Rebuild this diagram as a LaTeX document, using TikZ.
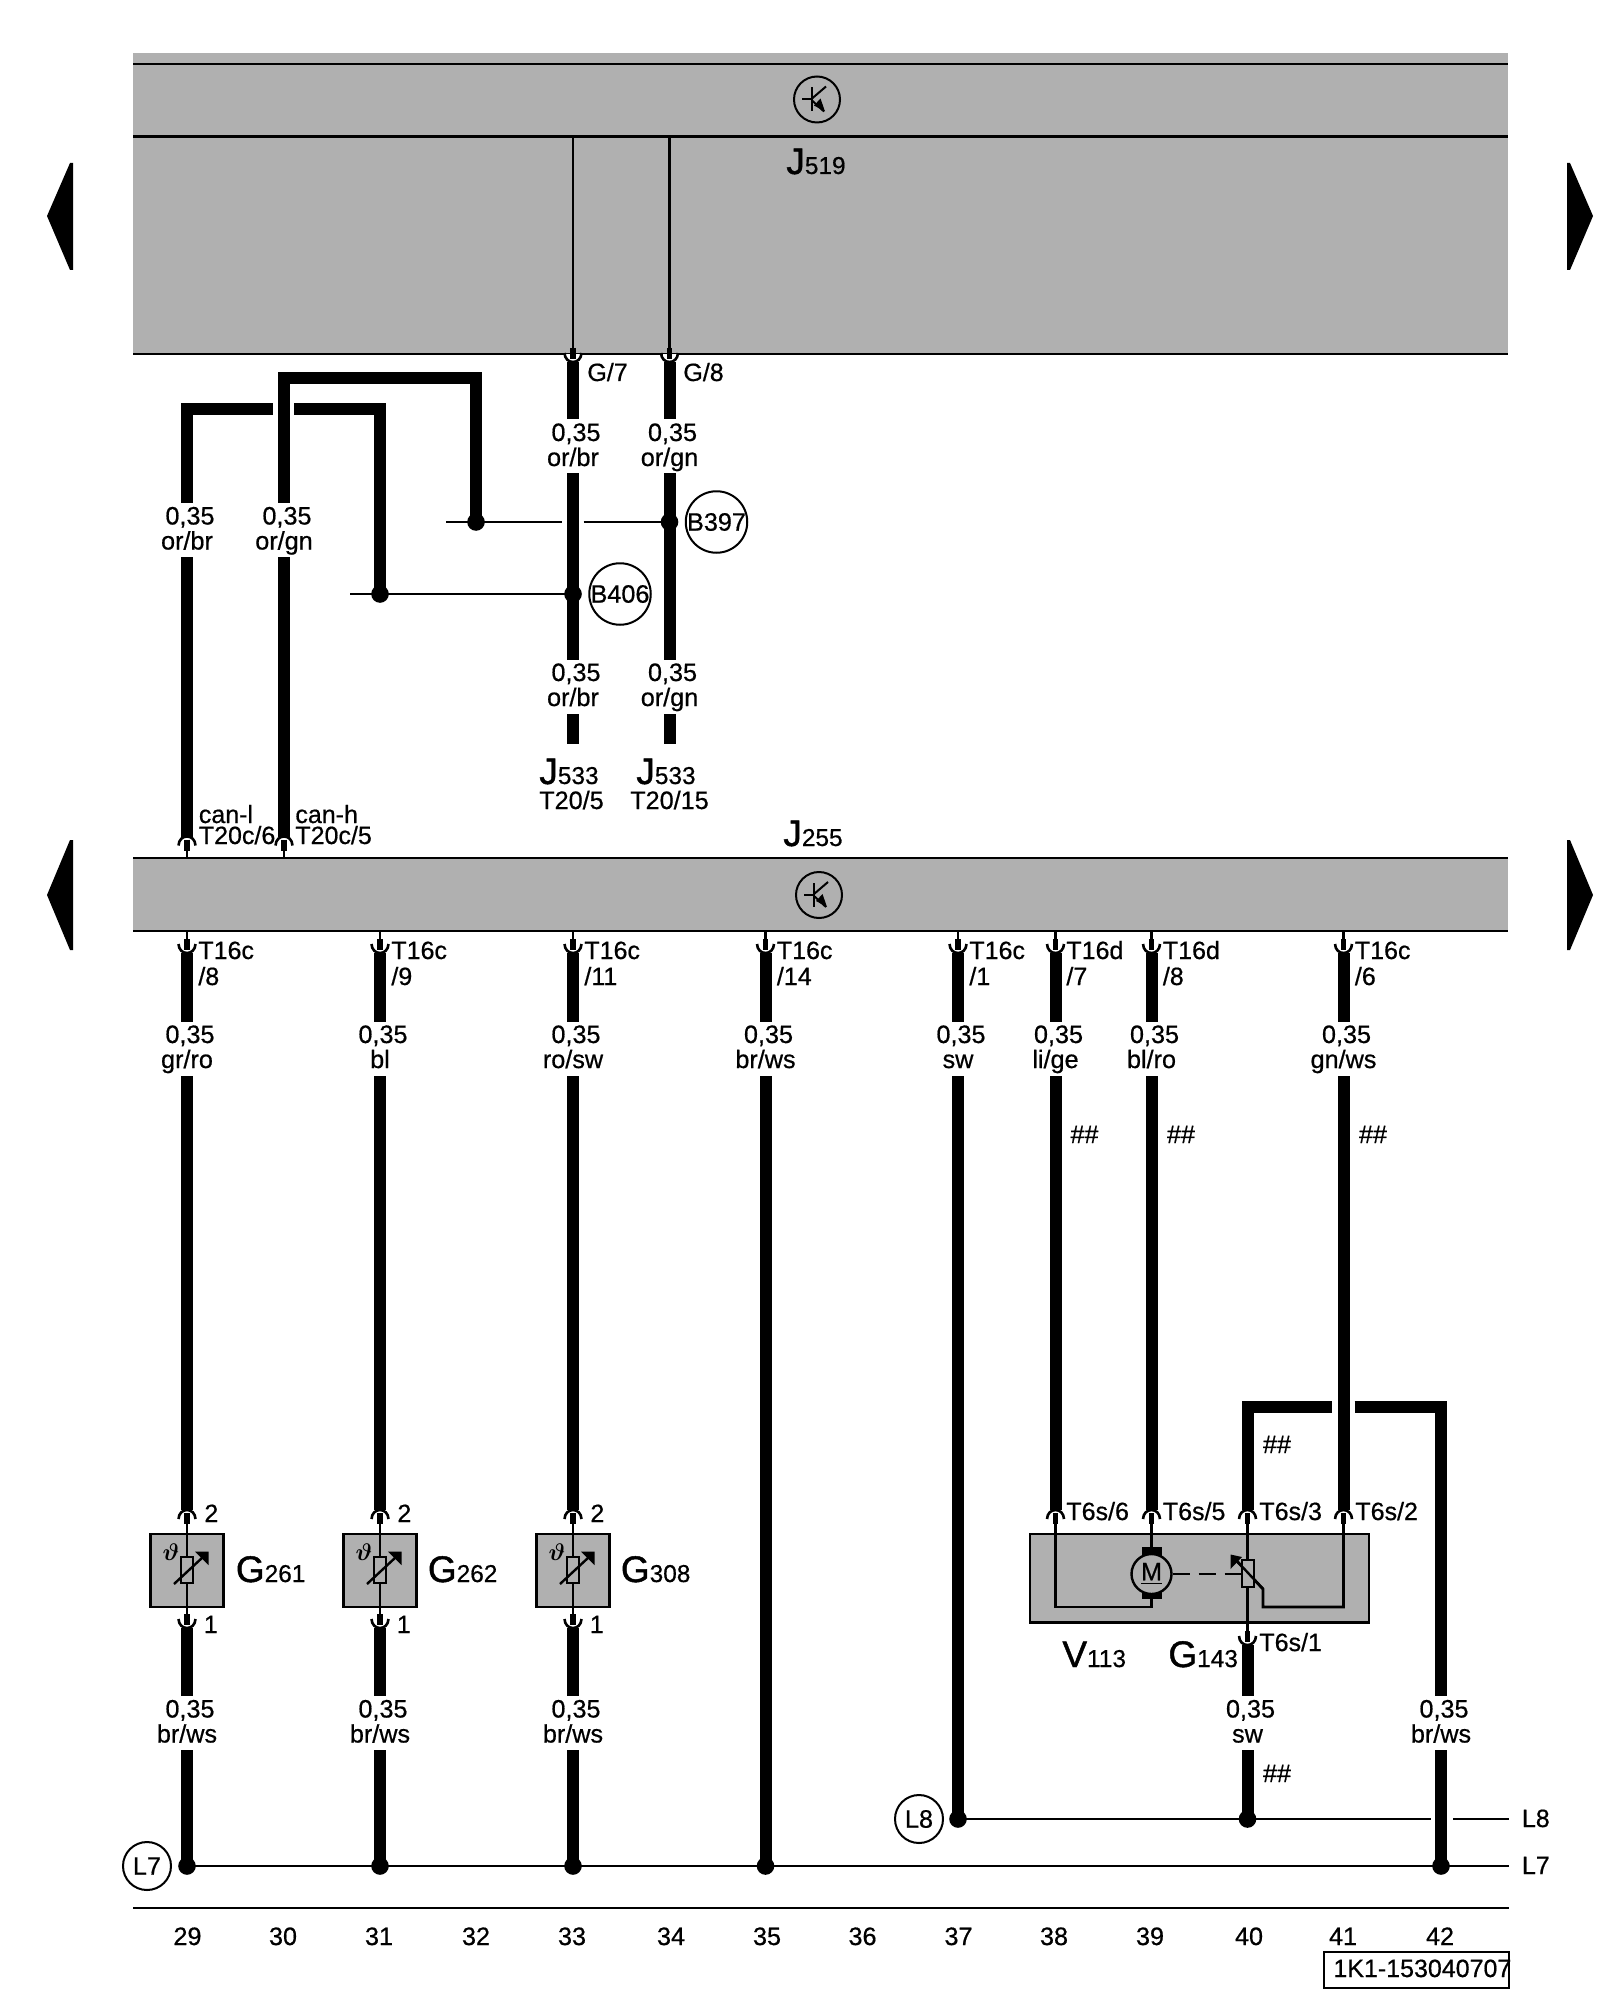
\documentclass[tikz,border=0pt]{standalone}
\usepackage{fontspec}
\setmainfont{Liberation Sans}
\newfontfamily\semifont[FakeBold=0.6]{Liberation Sans}
\newfontfamily\heavyfont[FakeBold=1.2]{Liberation Sans}
\usetikzlibrary{calc}
\definecolor{panelgray}{gray}{0.69}
\newcommand\biglab[2]{{\heavyfont\fontsize{18.5}{20}\selectfont #1}{\semifont\fontsize{12.2}{14}\selectfont #2}}
\tikzset{
  x=0.5pt,y=-0.5pt,
  wirethick/.style={line width=6pt,line cap=butt,line join=miter},
  wirethin/.style={line width=1.4pt,line cap=butt},
  barline/.style={line width=1.3pt},
  stub/.style={line width=2.6pt,line cap=butt},
  gapbox/.style={fill=white,draw=none,minimum width=14pt,minimum height=27pt,inner sep=0pt},
  lbl/.style={font=\semifont\fontsize{12.6}{14}\selectfont,inner sep=0pt,anchor=base},
  lblw/.style={font=\semifont\fontsize{12.5}{14}\selectfont,inner sep=0pt,anchor=base west},
  big/.style={inner sep=0pt,anchor=base west},
  ring/.style={circle,draw,line width=1pt,inner sep=0pt,minimum size=#1},
  dot/.style={circle,fill=black,inner sep=0pt,minimum size=8.8pt},
  panel/.style={fill=panelgray,draw=black,line width=1.2pt},
  tri/.style={fill=black,draw=none}
}
% contact seen from a wire coming from above (wire ends on the arc top)
\newcommand\contup[2]{%
  \fill[white] (#1-7,#2+8) .. controls (#1-7,#2-2) and (#1+7,#2-2) .. (#1+7,#2+8) -- cycle;
  \draw[line width=1.3pt] (#1-8.5,#2+9) .. controls (#1-8,#2-3) and (#1+8,#2-3) .. (#1+8.5,#2+9);
  \draw[stub] (#1,#2+3) -- (#1,#2+14);}
% contact seen from a wire going down (wire starts at the arc bottom)
\newcommand\contdn[2]{%
  \fill[white] (#1-7,#2-8) .. controls (#1-7,#2+2) and (#1+7,#2+2) .. (#1+7,#2-8) -- cycle;
  \draw[line width=1.3pt] (#1-8.5,#2-9) .. controls (#1-8,#2+3) and (#1+8,#2+3) .. (#1+8.5,#2-9);
  \draw[stub] (#1,#2-14) -- (#1,#2-3);}
% wire label interrupting a thick wire: name, x, centre y, upper text, lower text
\newcommand\wl[5]{%
  \node[gapbox] (#1) at (#2,#3) {};
  \node[lbl] (#1a) at (#2+3,#3-5.5) {#4};
  \node[lbl] (#1b) at (#2,#3+19.5) {#5};}
\newcommand\sensor[4]{% name, x centre, label, label left
  \node[panel,minimum width=36.5pt,minimum height=36.5pt,inner sep=0pt] (#1) at (#2,1570.5) {};
  \coordinate (#1t) at (#2,1522);
  \coordinate (#1b) at (#2,1615);
  \draw[wirethin] (#1t) -- (#1b);
  \draw[line width=1pt,fill=panelgray] (#2-6,1557) rectangle (#2+6,1583);
  \draw[line width=1.2pt] (#2-13,1584) -- (#2+16,1557);
  \fill (#2+21.5,1551.5) -- (#2+21.5,1565) -- (#2+8,1551.5) -- cycle;
  \node[inner sep=0pt,font=\fontsize{13}{14}\selectfont] (#1s) at (#2-16,1552) {$\boldsymbol{\vartheta}$};
  \node[big] (#1l) at (#4,1582) {\biglab{G}{#3}};
  \contup{#2}{1510}
  \contdn{#2}{1628}
  \node[lblw] (#1n2) at (#2+17,1522) {2};
  \node[lblw] (#1n1) at (#2+16.5,1633) {1};}
\newcommand\transym[2]{% name, centre given as x,y
  \node[ring=23pt] (#1) at (#2) {};
  \draw[line width=1pt] ($(#1)+(-5,-12)$) -- ($(#1)+(-5,12)$);
  \draw[line width=1pt] ($(#1)+(-15,0)$) -- ($(#1)+(-5,0)$);
  \draw[line width=1pt] ($(#1)+(-5,-1)$) -- ($(#1)+(9,-13)$);
  \draw[line width=1pt] ($(#1)+(-5,1)$) -- ($(#1)+(7,12)$);
  \fill ($(#1)+(8,12)$) -- ($(#1)+(3.5,-1)$) -- ($(#1)+(-3,6)$) -- cycle;}
\usepackage{amsmath}
\begin{document}
\begin{tikzpicture}
\useasboundingbox (0,0) rectangle (1600,2000);
% side markers
\fill[tri] (47,216) -- (70,163) -- (73,163) -- (73,270) -- (70,270) -- cycle;
\fill[tri] (47,895) -- (70,840) -- (73,840) -- (73,950) -- (70,950) -- cycle;
\fill[tri] (1593,216) -- (1570,163) -- (1567,163) -- (1567,270) -- (1570,270) -- cycle;
\fill[tri] (1593,895) -- (1570,840) -- (1567,840) -- (1567,950) -- (1570,950) -- cycle;
% J519 panel
\fill[panelgray] (133,53) rectangle (1508,354);
\draw[barline] (133,64) -- (1508,64);
\draw[barline] (133,136.5) -- (1508,136.5);
\draw[barline] (133,354) -- (1508,354);
\transym{sa}{817,99.5}
\node[big] (j519) at (786,174) {\biglab{J}{519}};
% J255 panel
\fill[panelgray] (133,858) rectangle (1508,931);
\draw[barline] (133,858) -- (1508,858);
\draw[barline] (133,931) -- (1508,931);
\transym{sb}{819,895}
\node[big] (j255) at (783,846) {\biglab{J}{255}};
% named points
\coordinate (a1) at (573,136.5);  \coordinate (a2) at (573,350);
\coordinate (b1) at (669.5,136.5);  \coordinate (b2) at (669.5,350);
\coordinate (c1) at (573,362);    \coordinate (c2) at (573,744);
\coordinate (d1) at (669.5,362);    \coordinate (d2) at (669.5,744);
\coordinate (dA) at (573,594);    \coordinate (dB) at (669.5,522);
\coordinate (dC) at (476,522);    \coordinate (dD) at (380,594);
\coordinate (e1) at (187,836.5);  \coordinate (e2) at (187,409);
\coordinate (e3) at (273,409);    \coordinate (e4) at (294,409);
\coordinate (e5) at (380,409);
\coordinate (f1) at (284,836.5);  \coordinate (f2) at (284,378);
\coordinate (f3) at (476,378);
\coordinate (h1) at (446,522);    \coordinate (h2) at (561.5,522);
\coordinate (h3) at (583.5,522);  \coordinate (h4) at (350,594);
% upper wires
\draw[wirethin] (a1) -- (a2);
\draw[wirethin] (b1) -- (b2);
\draw[wirethin] (h1) -- (h2);
\draw[wirethin] (h3) -- (dB);
\draw[wirethin] (h4) -- (dA);
\draw[wirethick] (c1) -- (c2);
\draw[wirethick] (d1) -- (d2);
\draw[wirethick] (e1) -- (e2) -- (e3);
\draw[wirethick] (e4) -- (e5) -- (dD);
\draw[wirethick] (f1) -- (f2) -- (f3) -- (dC);
\contdn{573}{362}
\contdn{669.5}{362}
\contup{187}{836.5}
\contup{284}{836.5}
\draw[wirethin] (187,849) -- (187,858);
\draw[wirethin] (284,849) -- (284,858);
\node[dot] (ndA) at (dA) {};
\node[dot] (ndB) at (dB) {};
\node[dot] (ndC) at (dC) {};
\node[dot] (ndD) at (dD) {};
\wl{u1}{573}{446.5}{0,35}{or/br}
\wl{u2}{669.5}{446.5}{0,35}{or/gn}
\wl{u3}{573}{686.5}{0,35}{or/br}
\wl{u4}{669.5}{686.5}{0,35}{or/gn}
\wl{u5}{187}{530}{0,35}{or/br}
\wl{u6}{284}{530}{0,35}{or/gn}
\node[lblw] (g7) at (587,381) {G/7};
\node[lblw] (g8) at (683,381) {G/8};
\node[ring=30.5pt,fill=white,font=\semifont\fontsize{12.6}{14}\selectfont] (b397) at (716.5,522) {B397};
\node[ring=30.5pt,fill=white,font=\semifont\fontsize{12.6}{14}\selectfont] (b406) at (620,594) {B406};
\node[big] (j533a) at (539,784) {\biglab{J}{533}};
\node[big] (j533b) at (636,784) {\biglab{J}{533}};
\node[lbl] (t205) at (571.5,809) {T20/5};
\node[lbl] (t2015) at (669.5,809) {T20/15};
\node[lblw] (canl) at (198.5,823) {can-l};
\node[lblw] (t6) at (198.5,844) {T20c/6};
\node[lblw] (canh) at (295,823) {can-h};
\node[lblw] (t5) at (295,844) {T20c/5};
% lower bus points
\coordinate (L7a) at (187,1866);  \coordinate (L7b) at (1509,1866);
\coordinate (L8a) at (958,1819);  \coordinate (L8b) at (1431,1819);
\coordinate (L8c) at (1453,1819); \coordinate (L8d) at (1509,1819);
\draw[wirethin] (L7a) -- (L7b);
\draw[wirethin] (L8a) -- (L8b);
\draw[wirethin] (L8c) -- (L8d);
% sensors, columns 29, 31, 33
\draw[wirethick] (187,953) -- (187,1510);
\draw[wirethick] (380,953) -- (380,1510);
\draw[wirethick] (573,953) -- (573,1510);
\draw[wirethick] (187,1628) -- (L7a);
\draw[wirethick] (380,1628) -- (380,1866);
\draw[wirethick] (573,1628) -- (573,1866);
\sensor{s1}{187}{261}{235.5}
\sensor{s2}{380}{262}{427.5}
\sensor{s3}{573}{308}{620.5}
% columns 35 to 41
\draw[wirethick] (765.5,953) -- (765.5,1866);
\draw[wirethick] (958,953) -- (L8a);
\draw[wirethick] (1055.5,953) -- (1055.5,1510);
\draw[wirethick] (1151.5,953) -- (1151.5,1510);
\draw[wirethick] (1343.5,953) -- (1343.5,1510);
% V113 / G143
\draw[panel] (1030,1534) rectangle (1369,1622.5);
\coordinate (v1) at (1055.5,1522); \coordinate (v2) at (1055.5,1607); \coordinate (v3) at (1151.5,1607);
\coordinate (v4) at (1151.5,1522); \coordinate (v5) at (1247.5,1522); \coordinate (v6) at (1247.5,1631);
\coordinate (v7) at (1343.5,1522); \coordinate (v8) at (1343.5,1607); \coordinate (v9) at (1263,1607); \coordinate (v10) at (1263,1589);
\draw[wirethin] (v1) -- (v2) -- (v3) -- (1151.5,1599);
\draw[wirethin] (v4) -- (1151.5,1547);
\draw[wirethin] (v5) -- (v6);
\draw[wirethin] (v7) -- (v8) -- (v9) -- (v10) -- (1234,1558);
\fill[black] (1141.5,1547) rectangle (1161.5,1556);
\fill[black] (1141.5,1592) rectangle (1161.5,1599);
\node[circle,draw,line width=1.2pt,fill=panelgray,minimum size=20pt,inner sep=0pt,font=\semifont\fontsize{12.6}{14}\selectfont] (mot) at (1151.5,1574) {\underline{M}};
\draw[line width=1.1pt,dash pattern=on 8.5pt off 4.5pt] (mot) -- (1243,1574);
\draw[line width=1pt,fill=panelgray] (1242,1560) rectangle (1254,1587);
\draw[line width=1.2pt] (1263,1589) -- (1236,1560);
\fill (1230.5,1554.5) -- (1242,1557) -- (1230.5,1569) -- cycle;
\draw[wirethick] (1247.5,1510) -- (1247.5,1407) -- (1331.5,1407);
\draw[wirethick] (1354.5,1407) -- (1441,1407) -- (1441,1866);
\draw[wirethick] (1247.5,1645) -- (1247.5,1819);
\contup{1055.5}{1510}
\contup{1151.5}{1510}
\contup{1247.5}{1510}
\contup{1343.5}{1510}
\contdn{1247.5}{1645}
\foreach \xx in {187,380,573,765.5,958,1055.5,1151.5,1343.5}{
  \draw[wirethin] (\xx,931) -- (\xx,941);
  \contdn{\xx}{953}
}
\node[dot] (n1) at (187,1866) {};
\node[dot] (n2) at (380,1866) {};
\node[dot] (n3) at (573,1866) {};
\node[dot] (n4) at (765.5,1866) {};
\node[dot] (n5) at (1441,1866) {};
\node[dot] (n6) at (958,1819) {};
\node[dot] (n7) at (1247.5,1819) {};
\wl{m1}{187}{1048.5}{0,35}{gr/ro}
\wl{m2}{380}{1048.5}{0,35}{bl}
\wl{m3}{573}{1048.5}{0,35}{ro/sw}
\wl{m4}{765.5}{1048.5}{0,35}{br/ws}
\wl{m5}{958}{1048.5}{0,35}{sw}
\wl{m6}{1055.5}{1048.5}{0,35}{li/ge}
\wl{m7}{1151.5}{1048.5}{0,35}{bl/ro}
\wl{m8}{1343.5}{1048.5}{0,35}{gn/ws}
\wl{q1}{187}{1723}{0,35}{br/ws}
\wl{q2}{380}{1723}{0,35}{br/ws}
\wl{q3}{573}{1723}{0,35}{br/ws}
\wl{q4}{1247.5}{1723}{0,35}{sw}
\wl{q5}{1441}{1723}{0,35}{br/ws}
% connector texts
\node[lblw] (c1a) at (198,959) {T16c};  \node[lblw] (c1b) at (198,985) {/8};
\node[lblw] (c2a) at (391,959) {T16c};  \node[lblw] (c2b) at (391,985) {/9};
\node[lblw] (c3a) at (584,959) {T16c};  \node[lblw] (c3b) at (584,985) {/11};
\node[lblw] (c4a) at (776.5,959) {T16c};    \node[lblw] (c4b) at (776.5,985) {/14};
\node[lblw] (c5a) at (969,959) {T16c};  \node[lblw] (c5b) at (969,985) {/1};
\node[lblw] (c6a) at (1066,959) {T16d}; \node[lblw] (c6b) at (1066,985) {/7};
\node[lblw] (c7a) at (1162.5,959) {T16d};   \node[lblw] (c7b) at (1162.5,985) {/8};
\node[lblw] (c8a) at (1354.5,959) {T16c};   \node[lblw] (c8b) at (1354.5,985) {/6};
\node[lbl] (h1t) at (1084.5,1143) {\#\#};
\node[lbl] (h2t) at (1181,1143) {\#\#};
\node[lbl] (h3t) at (1373,1143) {\#\#};
\node[lbl] (h4t) at (1277,1453) {\#\#};
\node[lbl] (h5t) at (1277,1782) {\#\#};
\node[lblw] (k1) at (1066,1520) {T6s/6};
\node[lblw] (k2) at (1162.5,1520) {T6s/5};
\node[lblw] (k3) at (1259,1520) {T6s/3};
\node[lblw] (k4) at (1355,1520) {T6s/2};
\node[lblw] (k5) at (1259,1651) {T6s/1};
\node[big] (v113) at (1062,1667) {\biglab{V}{113}};
\node[big] (g143) at (1168,1667) {\biglab{G}{143}};
% bus labels
\node[ring=24pt,font=\semifont\fontsize{12.6}{14}\selectfont] (cL8) at (919,1819) {L8};
\node[ring=24pt,font=\semifont\fontsize{12.6}{14}\selectfont] (cL7) at (147,1866) {L7};
\node[lblw] (tL8) at (1521.5,1827) {L8};
\node[lblw] (tL7) at (1521.5,1874) {L7};
% bottom
\draw[barline] (133,1908) -- (1509,1908);
\node[lbl] (n29) at (187.5,1945) {29};
\node[lbl] (n30) at (283,1945) {30};
\node[lbl] (n31) at (379,1945) {31};
\node[lbl] (n32) at (476,1945) {32};
\node[lbl] (n33) at (572,1945) {33};
\node[lbl] (n34) at (671,1945) {34};
\node[lbl] (n35) at (767,1945) {35};
\node[lbl] (n36) at (862.5,1945) {36};
\node[lbl] (n37) at (958.5,1945) {37};
\node[lbl] (n38) at (1054,1945) {38};
\node[lbl] (n39) at (1150,1945) {39};
\node[lbl] (n40) at (1249,1945) {40};
\node[lbl] (n41) at (1343,1945) {41};
\node[lbl] (n42) at (1440,1945) {42};
\draw[line width=1.1pt] (1324,1952) rectangle (1509,1988);
\node[lblw] (ref) at (1333,1977) {1K1-153040707};
\end{tikzpicture}
\end{document}
